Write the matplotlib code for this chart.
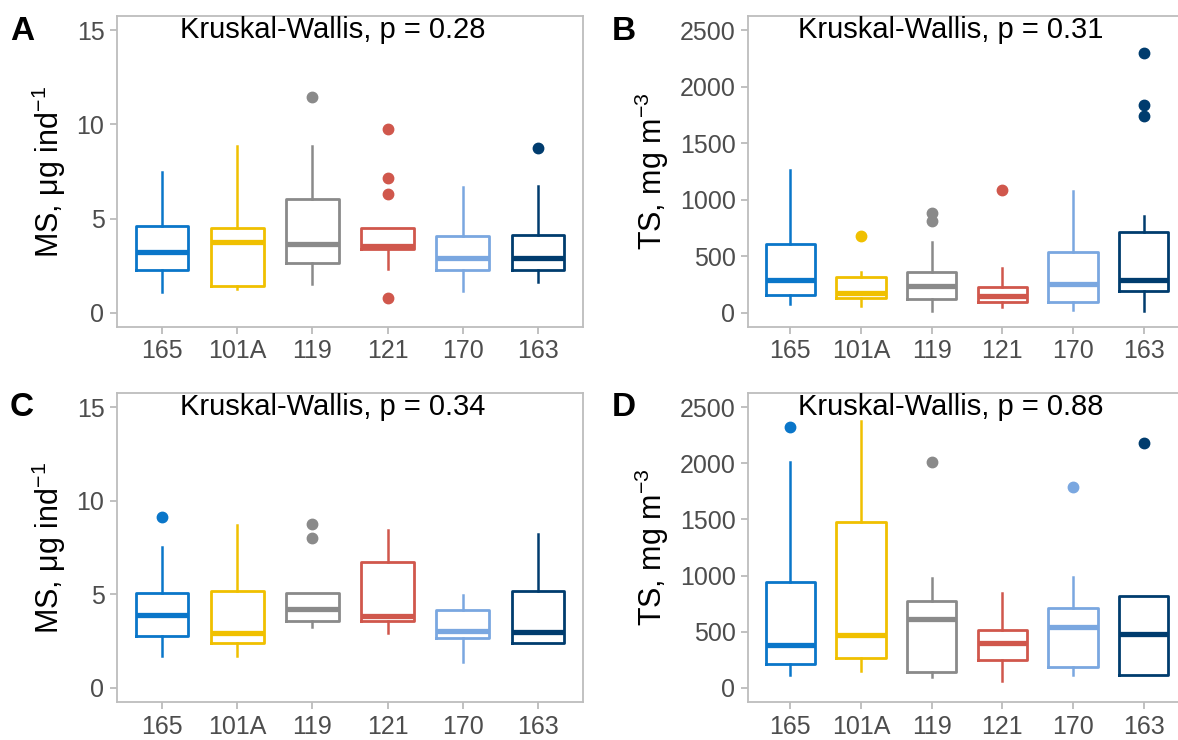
import numpy as np
import matplotlib
matplotlib.use("Agg")
import matplotlib.pyplot as plt

plt.rcParams['font.family'] = ['Liberation Sans', 'DejaVu Sans']
plt.rcParams['mathtext.fontset'] = 'custom'
plt.rcParams['mathtext.rm'] = 'Liberation Sans'
plt.rcParams['mathtext.it'] = 'Liberation Sans'

sites = ['165', '101A', '119', '121', '170', '163']
colors = ['#0a76c9', '#f0c000', '#8a8a8a', '#d0574c', '#7aa7e0', '#003c6e']

# per panel: [whislo, q1, med, q3, whishi] for each site, plus fliers
a_stats = [[1.13, 2.28, 3.22, 4.63, 7.46],
           [1.27, 1.41, 3.78, 4.50, 8.87],
           [1.54, 2.65, 3.64, 6.02, 8.87],
           [2.33, 3.39, 3.55, 4.52, 4.52],
           [1.18, 2.28, 2.90, 4.06, 6.66],
           [1.63, 2.28, 2.90, 4.12, 6.71]]
a_fliers = [[], [], [11.45], [9.77, 7.14, 6.31, 0.78], [], [8.76]]

b_stats = [[74, 156, 291, 609, 1263],
           [65, 130, 180, 315, 359],
           [15, 121, 238, 359, 630],
           [50, 100, 145, 227, 395],
           [29, 100, 256, 536, 1075],
           [15, 197, 291, 718, 860]]
b_fliers = [[], [677], [883, 815], [1089], [], [2302, 1840, 1737]]

c_stats = [[1.68, 2.76, 3.87, 5.05, 7.54],
           [1.68, 2.42, 2.95, 5.16, 8.69],
           [3.27, 3.60, 4.19, 5.05, 5.05],
           [2.95, 3.57, 3.85, 6.70, 8.46],
           [1.41, 2.69, 3.04, 4.15, 4.95],
           [2.42, 2.42, 2.99, 5.16, 8.20]]
c_fliers = [[9.12], [], [8.78, 7.99], [], [], []]

d_stats = [[115, 212, 380, 942, 2014],
           [153, 271, 471, 1478, 2376],
           [94, 138, 612, 777, 978],
           [65, 250, 398, 515, 845],
           [115, 183, 545, 713, 986],
           [118, 118, 477, 816, 816]]
d_fliers = [[2323], [], [2014], [], [1787], [2176]]

panels = [
    ('A', a_stats, a_fliers, 'Kruskal-Wallis, p = 0.28', 'MS, μg ind$^{-1}$', [0, 5, 10, 15], 15),
    ('B', b_stats, b_fliers, 'Kruskal-Wallis, p = 0.31', 'TS, mg m$^{-3}$', [0, 500, 1000, 1500, 2000, 2500], 2500),
    ('C', c_stats, c_fliers, 'Kruskal-Wallis, p = 0.34', 'MS, μg ind$^{-1}$', [0, 5, 10, 15], 15),
    ('D', d_stats, d_fliers, 'Kruskal-Wallis, p = 0.88', 'TS, mg m$^{-3}$', [0, 500, 1000, 1500, 2000, 2500], 2500),
]

W, H = 1178, 740
fig = plt.figure(figsize=(W / 100, H / 100), dpi=100)

# axes rectangles in pixels: left, top, right, bottom (right column runs off the edge)
rects = [(117, 16, 583, 327), (748, 16, 1186, 327),
         (117, 393, 583, 702), (748, 393, 1186, 702)]
letter_x = [10, 612, 10, 612]

for (letter, stats, fliers, note, ylab, yticks, ymax), (l, t, r, b), lx in zip(panels, rects, letter_x):
    ax = fig.add_axes([l / W, 1 - b / H, (r - l) / W, (b - t) / H])
    for i, (s, f, c) in enumerate(zip(stats, fliers, colors)):
        st = dict(whislo=s[0], q1=s[1], med=s[2], q3=s[3], whishi=s[4], fliers=f)
        ax.bxp([st], positions=[i + 1], widths=0.7, showcaps=False,
               boxprops=dict(color=c, linewidth=2.0),
               whiskerprops=dict(color=c, linewidth=1.8),
               medianprops=dict(color=c, linewidth=3.8, solid_capstyle='butt'),
               flierprops=dict(marker='o', markerfacecolor=c, markeredgecolor=c,
                               markersize=7.5))
    pad = ymax * 0.05
    ax.set_ylim(-pad, ymax + pad)
    ax.set_xlim(0.4, 6.6)
    ax.set_xticks(range(1, 7))
    ax.set_xticklabels(sites)
    ax.set_yticks(yticks)
    ax.tick_params(colors='#b5b5b5', labelcolor='#4d4d4d', labelsize=18, length=5, width=1.2, pad=4)
    for sp in ax.spines.values():
        sp.set_color('#bdbdbd')
        sp.set_linewidth(1.3)
    ax.set_ylabel(ylab, fontsize=22, labelpad=6)
    ax.text(3.27, ymax, note, ha='center', va='center', fontsize=21, color='black')
    fig.text(lx / W, 1 - (t + 15) / H, letter, fontsize=24, fontweight='bold',
             va='center', ha='left')

fig.savefig('out.png', dpi=100)
